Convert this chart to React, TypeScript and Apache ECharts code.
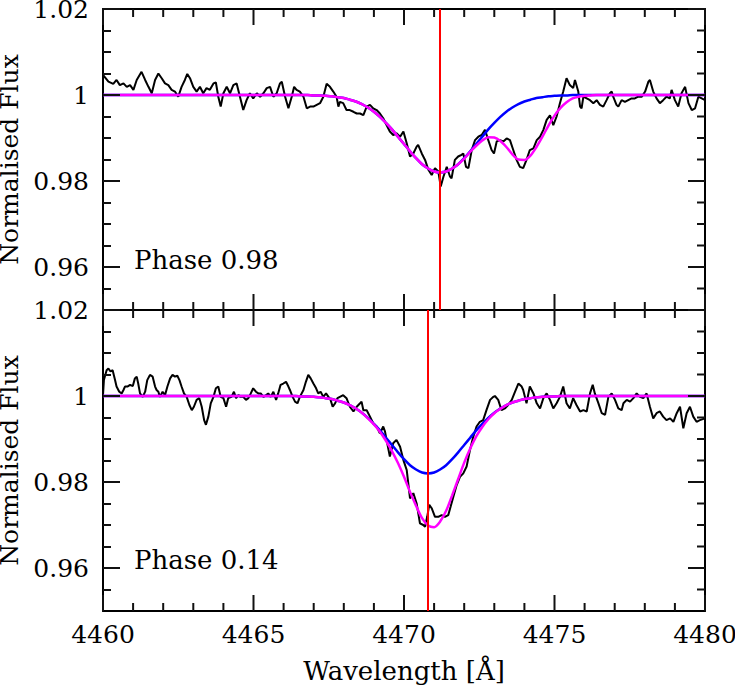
import React, { useEffect, useRef } from "react";
import * as echarts from "echarts";

// ---------- data ----------
const xMajorTicks = [4460, 4465, 4470, 4475, 4480];
const xMinorTicks = [
  4461, 4462, 4463, 4464, 4466, 4467, 4468, 4469, 4471, 4472, 4473, 4474, 4476, 4477, 4478, 4479,
];
const yMajorTicks = [0.96, 0.98, 1, 1.02];
const yMinorTicks = [0.955, 0.965, 0.97, 0.975, 0.985, 0.99, 0.995, 1.005, 1.01, 1.015];
const restWave = [4471.2, 4470.8]; // red vertical lines (top, bottom)
const phaseLabels = ["Phase 0.98", "Phase 0.14"];

const modelWave = [
  4460, 4466.0, 4466.2, 4466.4, 4466.6, 4466.8, 4467.0, 4467.2, 4467.4, 4467.6, 4467.8,
  4468.0, 4468.2, 4468.4, 4468.6, 4468.8, 4469.0, 4469.2, 4469.4, 4469.6, 4469.8,
  4470.0, 4470.2, 4470.4, 4470.6, 4470.8, 4471.0, 4471.2, 4471.4, 4471.6, 4471.8,
  4472.0, 4472.2, 4472.4, 4472.6, 4472.8, 4473.0, 4473.2, 4473.4, 4473.6, 4473.8,
  4474.0, 4474.2, 4474.4, 4474.6, 4474.8, 4475.0, 4475.2, 4475.4, 4475.6, 4475.8,
  4476.0, 4476.2, 4476.4, 4476.6, 4476.8, 4477.0, 4480,
];

const topBlue = [
  1, 1, 1, 1, 1, 1, 0.9999, 0.9999, 0.9998, 0.9997, 0.9995,
  0.9993, 0.9989, 0.9985, 0.9979, 0.9971, 0.9961, 0.9949, 0.9935, 0.992, 0.9903,
  0.9886, 0.9869, 0.9853, 0.9839, 0.9829, 0.9822, 0.982, 0.9822, 0.9829, 0.9839,
  0.9853, 0.9869, 0.9886, 0.9903, 0.992, 0.9935, 0.9949, 0.9961, 0.9971, 0.9979,
  0.9985, 0.9989, 0.9993, 0.9995, 0.9997, 0.9998, 0.9999, 0.9999, 1, 1,
  1, 1, 1, 1, 1, 1, 1,
];

const topMagenta = [
  1, 1, 1, 1, 1, 1, 0.9999, 0.9999, 0.9998, 0.9997, 0.9995,
  0.9993, 0.9989, 0.9985, 0.9979, 0.9971, 0.9961, 0.9949, 0.9935, 0.992, 0.9903,
  0.9886, 0.9869, 0.9853, 0.9839, 0.9829, 0.9822, 0.982, 0.9822, 0.9829, 0.9839,
  0.9852, 0.9868, 0.9882, 0.9894, 0.9902, 0.9901, 0.9893, 0.9879, 0.9862, 0.985,
  0.9849, 0.9859, 0.9879, 0.9903, 0.9929, 0.9952, 0.997, 0.9983, 0.9992, 0.9996,
  0.9998, 0.9999, 1, 1, 1, 1, 1,
];

const botBlue = [
  1, 1, 1, 1, 0.9999, 0.9999, 0.9998, 0.9997, 0.9995, 0.9993, 0.9989,
  0.9985, 0.9979, 0.9971, 0.9961, 0.9949, 0.9935, 0.992, 0.9903, 0.9886, 0.9869,
  0.9853, 0.9839, 0.9829, 0.9822, 0.982, 0.9822, 0.9829, 0.9839, 0.9853, 0.9869,
  0.9886, 0.9903, 0.992, 0.9935, 0.9949, 0.9961, 0.9971, 0.9979, 0.9985, 0.9989,
  0.9993, 0.9995, 0.9997, 0.9998, 0.9999, 0.9999, 1, 1, 1, 1,
  1, 1, 1, 1, 1, 1, 1,
];

const botMagenta = [
  1, 1, 1, 1, 0.9999, 0.9999, 0.9998, 0.9997, 0.9995, 0.9993, 0.9989,
  0.9985, 0.9979, 0.9971, 0.9961, 0.9948, 0.9934, 0.9917, 0.9896, 0.9872, 0.9844,
  0.9812, 0.9777, 0.9745, 0.9716, 0.9699, 0.9695, 0.9708, 0.9733, 0.9769, 0.9807,
  0.9845, 0.9878, 0.9906, 0.9928, 0.9946, 0.996, 0.997, 0.9979, 0.9985, 0.9989,
  0.9993, 0.9995, 0.9997, 0.9998, 0.9999, 0.9999, 1, 1, 1, 1,
  1, 1, 1, 1, 1, 1, 1,
];

const topSpectrum = [
  [4460.0, 1.0047], [4460.18, 1.0031], [4460.34, 1.0026], [4460.45, 1.0035], [4460.56, 1.0023],
  [4460.68, 1.0027], [4460.79, 1.0019], [4460.9, 1.0023], [4461.01, 1.0012], [4461.12, 1.0035],
  [4461.28, 1.0054], [4461.4, 1.0035], [4461.51, 1.0019], [4461.62, 1.0004], [4461.73, 1.0035],
  [4461.84, 1.005], [4461.95, 1.0039], [4462.06, 1.0027], [4462.17, 1.0023], [4462.28, 1.0012],
  [4462.39, 1.0008], [4462.5, 0.9996], [4462.61, 1.0019], [4462.72, 1.0035], [4462.8, 1.0049],
  [4462.89, 1.0039], [4463.0, 1.0019], [4463.11, 1.0008], [4463.22, 1.0019], [4463.33, 1.0004],
  [4463.44, 1.0016], [4463.55, 1.0012], [4463.67, 1.0027], [4463.75, 1.0029], [4463.83, 0.9996],
  [4463.91, 0.9973], [4464.0, 1.0004], [4464.11, 1.0019], [4464.22, 1.0004], [4464.33, 1.0023],
  [4464.44, 1.0027], [4464.55, 0.9996], [4464.66, 0.9965], [4464.77, 0.9988], [4464.88, 1.0004],
  [4464.99, 0.9992], [4465.11, 1.0004], [4465.22, 0.9996], [4465.33, 1.0004], [4465.44, 1.0016],
  [4465.55, 1.0019], [4465.66, 0.9996], [4465.77, 1.0004], [4465.88, 1.0027], [4465.94, 1.0031],
  [4466.05, 0.9996], [4466.16, 0.9969], [4466.27, 0.9996], [4466.35, 1.0019], [4466.43, 1.0012],
  [4466.54, 1.0008], [4466.66, 0.9996], [4466.77, 0.9969], [4466.88, 0.9973], [4466.99, 0.9973],
  [4467.1, 0.9977], [4467.21, 0.9981], [4467.32, 0.9996], [4467.43, 1.0026], [4467.54, 1.0019],
  [4467.65, 1.0008], [4467.76, 0.9996], [4467.82, 0.9973], [4467.87, 0.9984], [4467.98, 0.9981],
  [4468.09, 0.9965], [4468.2, 0.9965], [4468.32, 0.9961], [4468.43, 0.9957], [4468.54, 0.9957],
  [4468.65, 0.9953], [4468.76, 0.9973], [4468.87, 0.9977], [4468.98, 0.9969], [4469.09, 0.9965],
  [4469.2, 0.9957], [4469.31, 0.9946], [4469.42, 0.993], [4469.53, 0.9915], [4469.64, 0.9907],
  [4469.75, 0.9911], [4469.87, 0.9903], [4469.98, 0.9915], [4470.09, 0.9888], [4470.2, 0.9857],
  [4470.31, 0.9864], [4470.42, 0.988], [4470.47, 0.9884], [4470.59, 0.9864], [4470.7, 0.9849],
  [4470.81, 0.9826], [4470.92, 0.9814], [4471.03, 0.983], [4471.14, 0.9822], [4471.22, 0.9787],
  [4471.31, 0.981], [4471.42, 0.9833], [4471.53, 0.981], [4471.58, 0.9806], [4471.69, 0.9849],
  [4471.8, 0.9857], [4471.91, 0.9861], [4471.97, 0.9864], [4472.06, 0.9833], [4472.14, 0.983],
  [4472.25, 0.9872], [4472.36, 0.9895], [4472.47, 0.9903], [4472.58, 0.9907], [4472.69, 0.9919],
  [4472.8, 0.9895], [4472.91, 0.9872], [4472.99, 0.9864], [4473.08, 0.9892], [4473.19, 0.9895],
  [4473.3, 0.9892], [4473.41, 0.9899], [4473.52, 0.9895], [4473.63, 0.9872], [4473.74, 0.9849],
  [4473.85, 0.9833], [4473.96, 0.983], [4474.07, 0.9849], [4474.18, 0.9872], [4474.3, 0.9876],
  [4474.41, 0.9895], [4474.52, 0.9903], [4474.63, 0.9919], [4474.74, 0.9942], [4474.85, 0.9953],
  [4474.96, 0.993], [4475.07, 0.995], [4475.18, 0.9981], [4475.29, 1.0008], [4475.4, 1.0039],
  [4475.51, 1.0023], [4475.62, 1.0016], [4475.68, 1.0035], [4475.79, 1.0008], [4475.85, 0.9973],
  [4475.9, 0.9969], [4475.96, 0.9996], [4476.07, 0.9992], [4476.18, 0.9988], [4476.29, 0.9981],
  [4476.4, 0.9988], [4476.51, 0.9977], [4476.62, 0.9973], [4476.73, 0.9988], [4476.84, 1.0004],
  [4476.9, 1.0008], [4476.95, 0.9996], [4477.06, 0.9977], [4477.12, 0.9973], [4477.23, 0.9988],
  [4477.34, 0.9984], [4477.45, 0.9988], [4477.56, 0.9992], [4477.67, 0.9992], [4477.78, 0.9996],
  [4477.9, 0.9996], [4478.01, 1.0008], [4478.12, 1.0031], [4478.17, 1.0035], [4478.28, 1.0008],
  [4478.39, 0.9992], [4478.5, 0.9981], [4478.61, 0.9988], [4478.72, 0.9996], [4478.83, 0.9992],
  [4478.89, 1.0012], [4479.0, 0.9988], [4479.11, 0.9973], [4479.22, 1.0004], [4479.34, 1.0019],
  [4479.45, 0.9981], [4479.56, 0.9965], [4479.67, 0.9969], [4479.78, 0.9996], [4479.89, 0.9992],
  [4480.0, 0.9988],
];

const botSpectrum = [
  [4460.0, 1.0002], [4460.03, 1.0037], [4460.12, 1.006], [4460.18, 1.0064], [4460.25, 1.0057],
  [4460.32, 1.006], [4460.4, 1.0037], [4460.45, 1.0022], [4460.54, 1.001], [4460.62, 1.0006],
  [4460.68, 1.0014], [4460.73, 1.0022], [4460.81, 1.0022], [4460.9, 1.0026], [4460.99, 1.0023],
  [4461.06, 1.0041], [4461.12, 1.0045], [4461.17, 1.0029], [4461.23, 1.0006], [4461.32, 0.9998],
  [4461.4, 1.001], [4461.47, 1.0037], [4461.56, 1.0049], [4461.65, 1.0045], [4461.73, 1.0022],
  [4461.78, 1.0014], [4461.84, 1.001], [4461.89, 0.9998], [4461.98, 1.001], [4462.06, 1.0002],
  [4462.14, 1.0022], [4462.23, 1.0041], [4462.31, 1.0049], [4462.39, 1.0045], [4462.47, 1.0047],
  [4462.54, 1.0037], [4462.61, 1.0022], [4462.69, 1.0006], [4462.78, 0.9998], [4462.87, 0.9979],
  [4462.95, 0.9967], [4463.02, 0.9975], [4463.11, 0.9991], [4463.2, 0.9995], [4463.28, 0.9975],
  [4463.36, 0.9944], [4463.42, 0.9933], [4463.5, 0.9952], [4463.58, 0.9983], [4463.67, 0.9998],
  [4463.75, 1.0018], [4463.83, 1.0022], [4463.91, 0.9998], [4464.0, 0.9995], [4464.09, 0.9975],
  [4464.16, 0.9995], [4464.27, 0.9998], [4464.35, 1.001], [4464.42, 0.9995], [4464.5, 1.0002],
  [4464.57, 0.9998], [4464.66, 0.9998], [4464.75, 0.9991], [4464.83, 0.9995], [4464.91, 1.0006],
  [4464.99, 1.0018], [4465.08, 1.001], [4465.16, 1.0006], [4465.24, 1.0006], [4465.33, 0.9998],
  [4465.42, 1.0002], [4465.49, 1.0006], [4465.57, 0.9998], [4465.66, 1.001], [4465.75, 0.9991],
  [4465.82, 1.0006], [4465.9, 1.0026], [4465.99, 1.0029], [4466.08, 1.0033], [4466.16, 1.0022],
  [4466.21, 1.0014], [4466.3, 0.9998], [4466.38, 0.9987], [4466.46, 0.9983], [4466.54, 0.9998],
  [4466.66, 1.0014], [4466.74, 1.0033], [4466.82, 1.0049], [4466.9, 1.0041], [4466.99, 1.0029],
  [4467.08, 1.0018], [4467.15, 1.0006], [4467.23, 1.001], [4467.32, 0.9998], [4467.41, 1.0006],
  [4467.49, 0.9998], [4467.56, 0.9991], [4467.63, 0.9975], [4467.71, 0.9983], [4467.79, 0.9995],
  [4467.87, 0.9998], [4467.98, 1.0002], [4468.09, 0.9995], [4468.2, 0.9975], [4468.32, 0.9964],
  [4468.43, 0.9975], [4468.54, 0.9983], [4468.59, 0.9987], [4468.65, 0.9967], [4468.76, 0.9967],
  [4468.87, 0.9952], [4468.98, 0.9936], [4469.09, 0.9929], [4469.2, 0.9913], [4469.31, 0.9929],
  [4469.37, 0.9917], [4469.42, 0.9898], [4469.53, 0.9859], [4469.64, 0.989], [4469.75, 0.9898],
  [4469.87, 0.9882], [4469.98, 0.9851], [4470.09, 0.9828], [4470.2, 0.9762], [4470.31, 0.9774],
  [4470.42, 0.975], [4470.53, 0.9704], [4470.64, 0.97], [4470.7, 0.9696], [4470.77, 0.9719],
  [4470.84, 0.9747], [4470.92, 0.9739], [4471.03, 0.9719], [4471.14, 0.9719], [4471.25, 0.9723],
  [4471.36, 0.9719], [4471.47, 0.9723], [4471.55, 0.9743], [4471.64, 0.9766], [4471.75, 0.9793],
  [4471.86, 0.9812], [4471.97, 0.982], [4472.08, 0.9836], [4472.19, 0.9874], [4472.3, 0.9905],
  [4472.41, 0.9929], [4472.52, 0.994], [4472.63, 0.9944], [4472.74, 0.9967], [4472.86, 0.9991],
  [4472.97, 0.9998], [4473.02, 1.0], [4473.13, 0.9991], [4473.24, 0.9967], [4473.35, 0.9971],
  [4473.46, 0.9979], [4473.58, 0.9991], [4473.69, 1.001], [4473.8, 1.0029], [4473.91, 1.0022],
  [4473.96, 1.0014], [4474.07, 0.9983], [4474.18, 1.0022], [4474.3, 1.0006], [4474.41, 0.9983],
  [4474.52, 0.9971], [4474.63, 0.9995], [4474.74, 1.0006], [4474.85, 0.9991], [4474.96, 0.9971],
  [4475.07, 0.9983], [4475.18, 0.9998], [4475.29, 1.0022], [4475.4, 0.9983], [4475.51, 0.9971],
  [4475.62, 0.9995], [4475.73, 0.9979], [4475.85, 0.9964], [4475.96, 0.9967], [4476.07, 0.9964],
  [4476.18, 1.0006], [4476.27, 1.0026], [4476.34, 1.0006], [4476.46, 0.9983], [4476.57, 0.996],
  [4476.68, 0.9956], [4476.79, 0.9998], [4476.9, 1.0006], [4477.01, 0.9991], [4477.12, 0.9971],
  [4477.23, 0.9967], [4477.29, 0.9983], [4477.4, 0.9991], [4477.51, 0.9987], [4477.62, 0.9995],
  [4477.73, 1.0006], [4477.84, 0.9998], [4477.95, 0.9995], [4478.06, 1.0006], [4478.17, 0.9975],
  [4478.28, 0.9948], [4478.39, 0.996], [4478.5, 0.9964], [4478.61, 0.9952], [4478.72, 0.9944],
  [4478.84, 0.9948], [4478.95, 0.994], [4479.06, 0.996], [4479.17, 0.9975], [4479.28, 0.9925],
  [4479.39, 0.996], [4479.5, 0.9975], [4479.61, 0.9952], [4479.72, 0.994], [4479.83, 0.9944],
  [4480.0, 0.9948],
];

// ---------- chart ----------
const FONT = "DejaVu Serif";
const INK = "#111111";
const X_MIN = xMajorTicks[0];
const X_MAX = xMajorTicks[xMajorTicks.length - 1];
const Y_MIN = 0.95;
const Y_MAX = 1.02;

const GRID_LEFT = 103;
const GRID_W = 602;
const GRID_H = 301;
const GRID_TOPS = [9, 310];
const X_PX = GRID_W / (X_MAX - X_MIN);
const TICK_W = 2;

const zip = (xs: number[], ys: number[]) => xs.map((x, i) => [x, ys[i]]);

function yLabel(v: number): string {
  const r = Math.round(v * 1000);
  if (yMajorTicks.some((t) => Math.round(t * 1000) === r)) return String(r / 1000);
  return "";
}

// x ticks: custom series (filled rects), values: [x, yAnchor, length]
const xTickData = [
  ...xMajorTicks.map((v) => [v, Y_MIN, 16]),
  ...xMinorTicks.map((v) => [v, Y_MIN, 8]),
];
function renderXTick(_p: any, api: any) {
  const x = api.value(0);
  const len = api.value(2);
  const b = api.coord([x, Y_MIN]);
  const t = api.coord([x, Y_MAX]);
  return {
    type: "group",
    children: [
      {
        type: "rect",
        shape: { x: b[0] - TICK_W / 2, y: b[1] - len, width: TICK_W, height: len },
        style: { fill: INK },
      },
      {
        type: "rect",
        shape: { x: t[0] - TICK_W / 2, y: t[1], width: TICK_W, height: len },
        style: { fill: INK },
      },
    ],
  };
}

// left y ticks: markLine segments
function leftTickLines() {
  const out: any[] = [];
  const add = (vals: number[], len: number) =>
    vals.forEach((v) => out.push([{ coord: [X_MIN, v] }, { coord: [X_MIN + len / X_PX, v] }]));
  add(yMajorTicks, 17);
  add(yMinorTicks, 8);
  return out;
}

// right y ticks: rect symbols
function rightTickSymbols() {
  const out: any[] = [];
  const add = (vals: number[], len: number) =>
    vals.forEach((v) =>
      out.push({ value: [X_MAX, v], symbolSize: [len, TICK_W], symbolOffset: [-len / 2, 0] })
    );
  add(yMajorTicks, 17);
  add(yMinorTicks, 8);
  return out;
}

function buildOption() {
  const grids = GRID_TOPS.map((top) => ({
    left: GRID_LEFT,
    top,
    width: GRID_W,
    height: GRID_H,
    outerBoundsMode: "none",
    containLabel: false,
  }));
  const mkLine = () => ({ show: true, onZero: false, lineStyle: { color: "#000", width: 2 } });

  const xAxes: any[] = [];
  const yAxes: any[] = [];
  [0, 1].forEach((g) => {
    ["bottom", "top"].forEach((pos) => {
      const showLab = g === 1 && pos === "bottom";
      xAxes.push({
        type: "value",
        gridIndex: g,
        position: pos,
        min: X_MIN,
        max: X_MAX,
        interval: 5,
        axisLine: mkLine(),
        splitLine: { show: false },
        axisTick: { show: false },
        minorTick: { show: false },
        axisLabel: {
          show: showLab,
          color: "#000",
          fontFamily: FONT,
          fontSize: 25,
          margin: 11,
          formatter: (v: number) => String(v),
        },
        name: showLab ? "Wavelength [Å]" : "",
        nameLocation: "middle",
        nameGap: 47,
        nameTextStyle: { color: "#000", fontFamily: FONT, fontSize: 26 },
      });
    });
    ["left", "right"].forEach((pos) => {
      const isLeft = pos === "left";
      yAxes.push({
        type: "value",
        gridIndex: g,
        position: pos,
        min: Y_MIN,
        max: Y_MAX,
        interval: 0.005,
        axisLine: mkLine(),
        splitLine: { show: false },
        axisTick: { show: false },
        axisLabel: {
          show: isLeft,
          color: "#000",
          fontFamily: FONT,
          fontSize: 25,
          margin: 14,
          formatter: yLabel,
        },
        name: isLeft ? "Normalised Flux" : "",
        nameLocation: "middle",
        nameGap: 81,
        nameTextStyle: { color: "#000", fontFamily: FONT, fontSize: 25 },
      });
    });
  });

  const spectra = [topSpectrum, botSpectrum];
  const blues = [topBlue, botBlue];
  const magentas = [topMagenta, botMagenta];
  const series: any[] = [];
  [0, 1].forEach((g) => {
    const xi = g * 2;
    const yi = g * 2;
    series.push({
      type: "line",
      xAxisIndex: xi,
      yAxisIndex: yi,
      data: spectra[g],
      showSymbol: false,
      symbol: "none",
      lineStyle: { color: "#000", width: 2 },
      z: 2,
      silent: true,
    });
    series.push({
      type: "line",
      xAxisIndex: xi,
      yAxisIndex: yi,
      data: zip(modelWave, blues[g]),
      showSymbol: false,
      symbol: "none",
      smooth: 0.3,
      lineStyle: { color: "#0000ff", width: 2.5 },
      z: 3,
      silent: true,
    });
    series.push({
      type: "line",
      xAxisIndex: xi,
      yAxisIndex: yi,
      data: zip(modelWave, magentas[g]),
      showSymbol: false,
      symbol: "none",
      smooth: 0.3,
      lineStyle: { color: "#ff00ff", width: 2.5 },
      z: 4,
      silent: true,
      markLine: {
        silent: true,
        symbol: ["none", "none"],
        label: { show: false },
        lineStyle: { color: "#ff0000", width: 2, type: "solid" },
        data: [{ xAxis: restWave[g] }],
      },
    });
    series.push({
      type: "custom",
      xAxisIndex: xi,
      yAxisIndex: yi,
      data: xTickData,
      encode: { x: 0, y: 1 },
      renderItem: renderXTick,
      clip: false,
      silent: true,
      z: 20,
    });
    series.push({
      type: "line",
      xAxisIndex: xi,
      yAxisIndex: yi,
      data: [],
      showSymbol: false,
      symbol: "none",
      z: 20,
      silent: true,
      markLine: {
        silent: true,
        symbol: ["none", "none"],
        label: { show: false },
        lineStyle: { color: INK, width: TICK_W, type: "solid", opacity: 1 },
        data: leftTickLines(),
      },
    });
    series.push({
      type: "scatter",
      xAxisIndex: xi,
      yAxisIndex: yi,
      data: rightTickSymbols(),
      symbol: "rect",
      clip: false,
      silent: true,
      z: 20,
      itemStyle: { color: INK, opacity: 1, borderWidth: 0 },
      emphasis: { disabled: true },
    });
  });

  const graphic = phaseLabels.map((t, i) => ({
    type: "text",
    x: 134,
    y: i === 0 ? 260 : 560,
    z: 100,
    style: {
      text: t,
      fill: "#000",
      font: `26px "${FONT}"`,
      textVerticalAlign: "middle",
      verticalAlign: "middle",
    },
  }));

  return {
    animation: false,
    backgroundColor: "#fff",
    grid: grids,
    xAxis: xAxes,
    yAxis: yAxes,
    series,
    graphic,
  };
}

export default function App() {
  const ref = useRef<HTMLDivElement>(null);
  useEffect(() => {
    if (!ref.current) return;
    const chart = echarts.init(ref.current, undefined, { renderer: "svg" });
    chart.setOption(buildOption() as any);
    return () => chart.dispose();
  }, []);
  return (
    <div
      ref={ref}
      style={{ width: 735, height: 686, position: "absolute", left: 0, top: 0, background: "#fff" }}
    />
  );
}
